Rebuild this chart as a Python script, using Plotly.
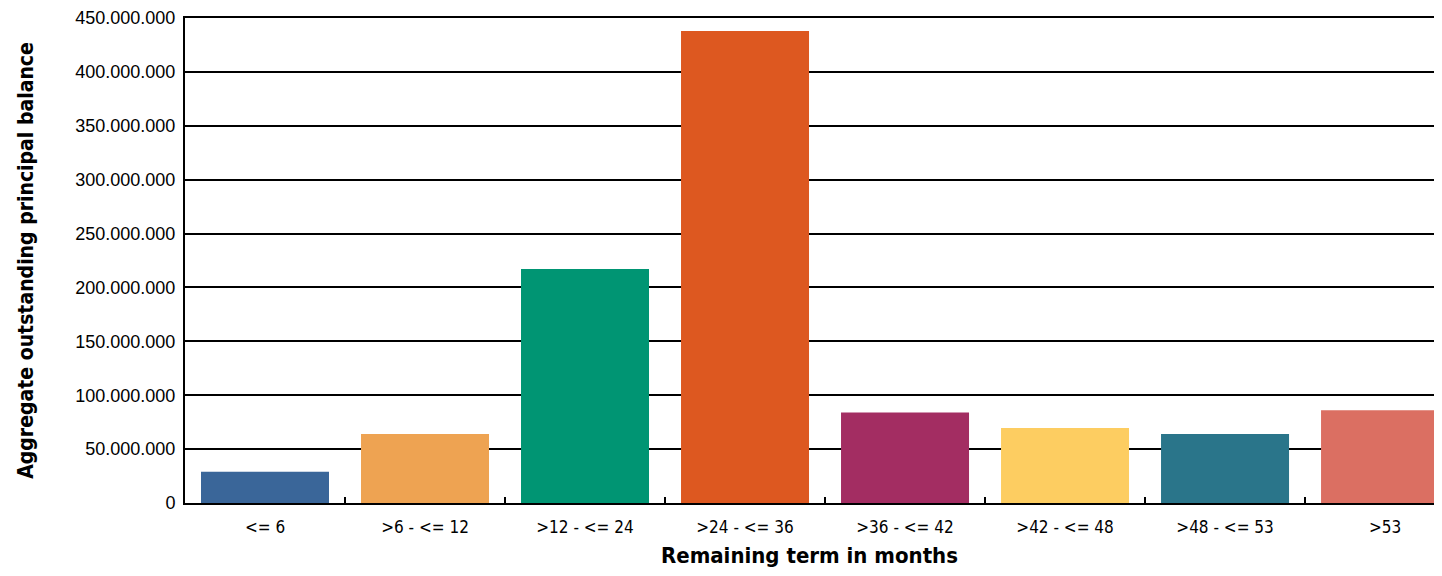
import plotly.graph_objects as go

# --- data
categories = ["<= 6", ">6 - <= 12", ">12 - <= 24", ">24 - <= 36",
              ">36 - <= 42", ">42 - <= 48", ">48 - <= 53", ">53"]
balance = [29e6, 64e6, 217e6, 438e6, 84e6, 69.5e6, 64e6, 86e6]
colors = ["#3A6699", "#EEA352", "#009573", "#DD5820",
          "#A32D62", "#FDCD61", "#2A758A", "#DB6F62"]

narrow = "DejaVu Sans Condensed, Liberation Sans Narrow, Arial Narrow, Liberation Sans, sans-serif"

# --- plot
fig = go.Figure(go.Bar(x=categories, y=balance, marker=dict(color=colors, line=dict(width=0)),
                       width=0.8, showlegend=False))

# --- style (page body adds 8px offset, keep page within window)
fig.update_layout(
    width=1426, height=560,
    margin=dict(t=7, r=0, l=177, b=64),
    plot_bgcolor="white", paper_bgcolor="white",
    separators=",.",
    font=dict(family="Liberation Sans, Arial, sans-serif", color="black"),
)
# mirrored x line gives the top rule at 450.000.000
fig.update_xaxes(range=[-0.5, 7.306], tickson="boundaries", ticks="inside", ticklen=6,
                 tickwidth=2, tickcolor="black", showline=True, mirror=True, linecolor="black",
                 linewidth=2, tickfont=dict(family=narrow, size=17), ticklabelstandoff=8,
                 title=dict(text="<b>Remaining term in months</b>", font=dict(family=narrow, size=22),
                            standoff=15))
fig.update_yaxes(range=[0, 450e6], tickvals=[i * 50e6 for i in range(10)], tickformat=",.0f",
                 showgrid=True, gridcolor="black", gridwidth=2, showline=True, linecolor="black",
                 linewidth=2, zeroline=False, ticks="", tickfont=dict(size=18), ticklabelstandoff=4,
                 ticklabeloverflow="allow",
                 title=dict(text="<b>Aggregate outstanding principal balance</b>",
                            font=dict(family=narrow, size=21), standoff=36))

fig.write_html("out.html")
